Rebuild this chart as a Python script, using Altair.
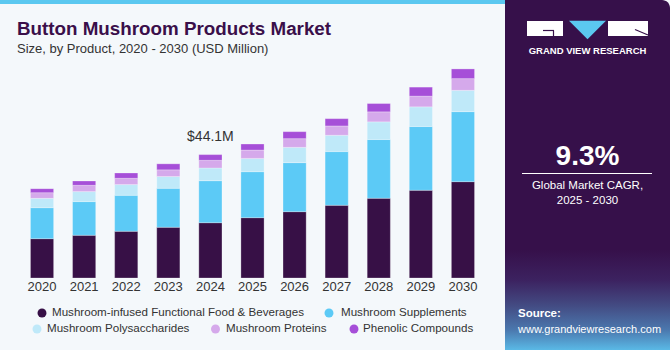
import altair as alt
import pandas as pd

years = ["2020", "2021", "2022", "2023", "2024", "2025", "2026", "2027", "2028", "2029", "2030"]
series_names = [
    "Mushroom-infused Functional Food & Beverages",
    "Mushroom Supplements",
    "Mushroom Polysaccharides",
    "Mushroom Proteins",
    "Phenolic Compounds",
]
functional_food = [14.06, 15.27, 16.70, 18.14, 19.78, 21.57, 23.72, 26.00, 28.51, 31.37, 34.45]
supplements = [11.09, 12.05, 12.88, 13.95, 15.02, 16.45, 17.53, 19.21, 21.00, 22.79, 25.04]
polysaccharides = [3.33, 3.58, 3.83, 4.19, 4.54, 4.76, 5.47, 5.83, 6.33, 7.05, 7.62]
proteins = [2.04, 2.25, 2.25, 2.40, 2.75, 2.97, 3.11, 3.33, 3.58, 3.83, 4.19]
phenolic = [1.43, 1.54, 1.90, 2.15, 2.04, 2.15, 2.50, 2.61, 2.97, 3.22, 3.47]
colors = ["#371046", "#5ccaf6", "#bfe9f9", "#d5a9eb", "#a64fd8"]
annotation_year = "2024"
annotation_text = "$44.1M"

series_values = [functional_food, supplements, polysaccharides, proteins, phenolic]
rows = []
for si, (name, vals) in enumerate(zip(series_names, series_values)):
    for y, v in zip(years, vals):
        rows.append({"year": y, "series": name, "value": v, "order": si})
df = pd.DataFrame(rows)

totals = {y: sum(s[i] for s in series_values) for i, y in enumerate(years)}
ann_df = pd.DataFrame([{"year": annotation_year, "total": totals[annotation_year], "label": annotation_text}])
year_df = pd.DataFrame({"year": years})
one = pd.DataFrame({"a": [0]})

xscale = alt.Scale(domain=years, range=[21, 484], paddingInner=0.45, paddingOuter=0.225)
yscale = alt.Scale(domain=[0, 75.1], range=[278, 68], nice=False, zero=True)

FONT = "Liberation Sans"

bars = alt.Chart(df).mark_bar(stroke="#ffffff", strokeWidth=0.6, strokeOpacity=0.45).encode(
    x=alt.X("year:N", scale=xscale, axis=None),
    y=alt.Y("value:Q", stack="zero", scale=yscale, axis=None),
    color=alt.Color("series:N", scale=alt.Scale(domain=series_names, range=colors), legend=None),
    order=alt.Order("order:Q", sort="ascending"),
)

year_labels = alt.Chart(year_df).mark_text(font=FONT, fontSize=13, color="#333333", baseline="middle").encode(
    x=alt.X("year:N", scale=xscale, axis=None),
    y=alt.value(287),
    text="year:N",
)

ann = alt.Chart(ann_df).mark_text(font=FONT, fontSize=14, color="#333333", baseline="alphabetic", dy=-14).encode(
    x=alt.X("year:N", scale=xscale, axis=None),
    y=alt.Y("total:Q", scale=yscale, axis=None),
    text="label:N",
)

def rect(x, x2, y, y2, color, **kw):
    return alt.Chart(one).mark_rect(color=color, **kw).encode(
        x=alt.value(x), x2=alt.value(x2), y=alt.value(y), y2=alt.value(y2)
    )

def text(t, x, y, size, color, weight="normal", align="left", baseline="middle"):
    return alt.Chart(one).mark_text(
        text=t, font=FONT, fontSize=size, color=color, fontWeight=weight, align=align, baseline=baseline
    ).encode(x=alt.value(x), y=alt.value(y))

def rule(x, y, x2, y2, color, w=1.0):
    return alt.Chart(one).mark_rule(color=color, strokeWidth=w).encode(
        x=alt.value(x), y=alt.value(y), x2=alt.value(x2), y2=alt.value(y2)
    )

stripe = rect(0, 506, 0, 4, "#5bc8f0")
panel = rect(505, 670, 0, 350, "#36104a", cornerRadiusTopRight=8)
grad = rect(505, 670, 250, 350, alt.LinearGradient(
    gradient="linear", x1=0, y1=0, x2=0, y2=1,
    stops=[
        alt.GradientStop(offset=0, color="#36104a"),
        alt.GradientStop(offset=0.3, color="#3c2260"),
        alt.GradientStop(offset=0.55, color="#434a82"),
        alt.GradientStop(offset=0.8, color="#4b78ae"),
        alt.GradientStop(offset=1, color="#5ab9e6"),
    ],
))

logo_g = rect(527, 563, 21, 36, "#ffffff")
logo_r = rect(608, 648, 21, 36, "#ffffff")
logo_tri = alt.Chart(one).mark_point(shape="M-1,-0.5L1,-0.5L0,0.5Z", filled=True, color="#5bc8f0", opacity=1, size=1369, strokeWidth=0).encode(
    x=alt.value(587.5), y=alt.value(30)
)
g_line1 = rule(543, 30.5, 554, 30.5, "#36104a", 1.2)
g_line2 = rule(553.5, 30.5, 553.5, 36, "#36104a", 1.2)
r_line = rule(635, 29.5, 648, 35, "#36104a", 1.2)
logo_text = text("GRAND VIEW RESEARCH", 587.5, 51, 9.5, "#ffffff", "bold", align="center")

cagr = text("9.3%", 587.5, 165, 28, "#ffffff", "bold", align="center", baseline="alphabetic")
cagr_line = rule(522, 173.5, 652, 173.5, "#ffffff", 1)
cagr_t1 = text("Global Market CAGR,", 587.5, 185.5, 11.5, "#ffffff", align="center")
cagr_t2 = text("2025 - 2030", 587.5, 201, 11.5, "#ffffff", align="center")
src1 = text("Source:", 518, 314, 11.5, "#ffffff", "bold")
src2 = text("www.grandviewresearch.com", 518, 330, 11, "#ffffff")

title = text("Button Mushroom Products Market", 17, 35, 18.8, "#3a0f4a", "bold", baseline="alphabetic")
subtitle = text("Size, by Product, 2020 - 2030 (USD Million)", 17, 53, 13, "#333333", baseline="alphabetic")

legend_pos = [(42, 52, 313), (329, 341, 313), (37, 47, 329), (215.5, 226, 329), (354, 363, 329)]
legend_layers = []
for (cx, tx, ly), name, col in zip(legend_pos, series_names, colors):
    legend_layers.append(
        alt.Chart(one).mark_circle(color=col, size=80, opacity=1).encode(x=alt.value(cx), y=alt.value(ly))
    )
    legend_layers.append(text(name, tx, ly, 11.6, "#333333"))

chart = alt.layer(
    stripe, panel, grad,
    bars, year_labels, ann,
    logo_g, logo_r, logo_tri, g_line1, g_line2, r_line, logo_text,
    cagr, cagr_line, cagr_t1, cagr_t2, src1, src2,
    title, subtitle,
    *legend_layers,
).properties(
    width=670, height=350, background="#f4f8fb",
    autosize=alt.AutoSizeParams(type="none"), padding=0,
).configure_view(stroke=None)

chart.save("out.html", embed_options={"renderer": "svg", "actions": False})
